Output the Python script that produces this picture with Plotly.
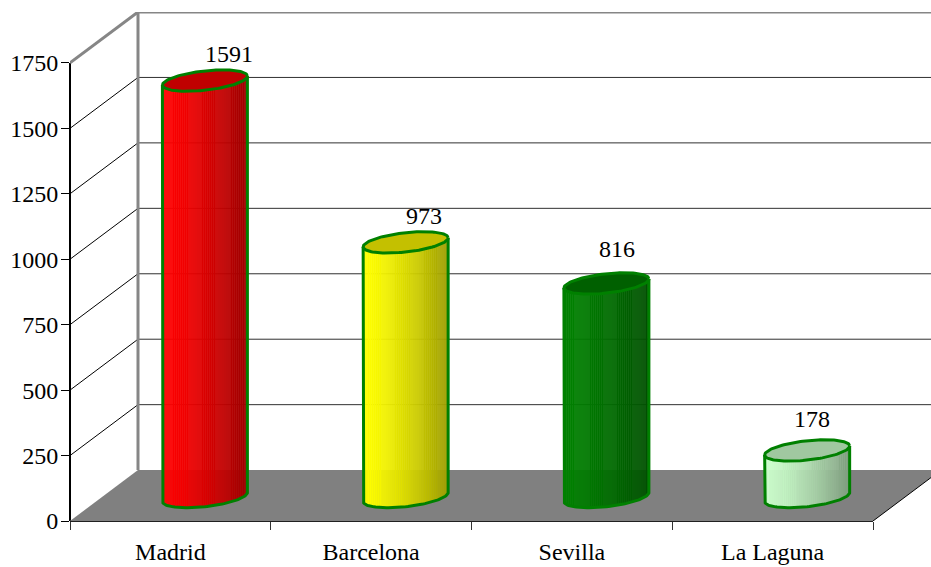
import math
import plotly.graph_objects as go

# ---- data ----
categories = ["Madrid", "Barcelona", "Sevilla", "La Laguna"]
values = [1591, 973, 816, 178]
y_ticks = [0, 250, 500, 750, 1000, 1250, 1500, 1750]
body_colors = [(255, 0, 0), (255, 255, 0), (0, 128, 0), (204, 255, 204)]
top_colors = ["#c00000", "#c4c000", "#006000", "#a0c8a0"]
label_shift = [(24, 27), (18, 26), (11, 34), (5, 31)]

# ---- geometry in axis units ----
PX_X = 200.75
PX_Y = 459 / 1750
DEPTH_X = 68 / PX_X
DEPTH_Y = 51 / PX_Y
X_MAX = 861 / PX_X
Y_MAX = 510 / PX_Y
CYL_DX = 0.672
CYL_BASE = 24 / PX_Y
RX = 42.5 / PX_X
RY = 9.7 / PX_Y
TILT = 4.5 / PX_Y
N = 44
OUTLINE = "#008000"
FONT = "Liberation Serif, Times New Roman, serif"

fig = go.Figure()
shapes = []


def line(x0, y0, x1, y1, color, width, xref="x", yref="y"):
    shapes.append(dict(type="line", x0=x0, y0=y0, x1=x1, y1=y1, xref=xref, yref=yref,
                       layer="below", line=dict(color=color, width=width)))


# floor
shapes.append(dict(type="path", layer="below", fillcolor="#808080", line=dict(width=0),
                   path=f"M 0 0 L {DEPTH_X} {DEPTH_Y} L {4 + DEPTH_X} {DEPTH_Y} L 4 0 Z"))
# walls
for v in y_ticks[1:-1]:
    line(0, v, DEPTH_X, v + DEPTH_Y, "#000000", 1)
    line(DEPTH_X, v + DEPTH_Y, X_MAX, v + DEPTH_Y, "#303030", 1)
line(0, 1750, DEPTH_X, 1750 + DEPTH_Y, "#868686", 3)
line(DEPTH_X, DEPTH_Y, DEPTH_X, 1750 + DEPTH_Y, "#868686", 3)
line(DEPTH_X, 1750 + DEPTH_Y, X_MAX, 1750 + DEPTH_Y, "#868686", 3)
line(4, 0, 4 + DEPTH_X, DEPTH_Y, "#000000", 1)
# axes
line(0, 0, 0, 1750, "#000000", 2, xref="paper")
line(0, 0, 4 / X_MAX, 0, "#202020", 2, xref="paper", yref="paper")

for i, (name, val) in enumerate(zip(categories, values)):
    cx = i + CYL_DX
    strip = 2 * RX / N
    xs, bases, cols = [], [], []
    for k in range(N):
        u = -1 + (k + 0.5) * 2 / N
        xs.append(cx + u * RX)
        bases.append(CYL_BASE + TILT * u - RY * math.sqrt(1 - u * u))
        f = k / (N - 1)
        shade = 1 - 0.38 * f ** 1.4
        r, g, b = body_colors[i]
        cols.append(f"rgb({r * shade:.0f},{g * shade:.0f},{b * shade:.0f})")
    fig.add_trace(go.Bar(x=xs, y=[val] * N, base=bases, width=strip, name=name,
                         marker=dict(color=cols, opacity=0.95, line=dict(width=0)),
                         showlegend=False, hoverinfo="skip"))

    # outline of sides and lower arc
    ts = [math.pi + j * math.pi / 60 for j in range(61)]
    ox = [cx + RX * math.cos(t) for t in ts]
    oy = [CYL_BASE + TILT * math.cos(t) + RY * math.sin(t) for t in ts]
    top = val + CYL_BASE
    ox = [cx - RX] + ox + [cx + RX]
    oy = [top - TILT] + oy + [top + TILT]
    fig.add_trace(go.Scatter(x=ox, y=oy, mode="lines", line=dict(color=OUTLINE, width=3),
                             showlegend=False, hoverinfo="skip"))
    # top ellipse
    ts = [j * 2 * math.pi / 120 for j in range(121)]
    ex = [cx + RX * math.cos(t) for t in ts]
    ey = [top + TILT * math.cos(t) + RY * math.sin(t) for t in ts]
    fig.add_trace(go.Scatter(x=ex, y=ey, mode="lines", fill="toself", fillcolor=top_colors[i],
                             line=dict(color=OUTLINE, width=3), showlegend=False, hoverinfo="skip"))

annotations = [
    dict(x=i + CYL_DX, y=values[i] + CYL_BASE, text=str(values[i]), showarrow=False,
         xshift=label_shift[i][0], yshift=label_shift[i][1],
         font=dict(family=FONT, size=24, color="#000000"))
    for i in range(len(values))
]

fig.update_layout(
    width=931, height=567, margin=dict(l=70, r=0, t=11.5, b=45.5, pad=0),
    paper_bgcolor="white", plot_bgcolor="white", barmode="overlay", bargap=0,
    showlegend=False, shapes=shapes, annotations=annotations,
    font=dict(family=FONT, size=24, color="#000000"),
    xaxis=dict(range=[0, X_MAX], showgrid=False, zeroline=False, showline=False,
               tickmode="array", tickvals=[0.5, 1.5, 2.5, 3.5], ticktext=categories,
               ticks="", ticklen=0, ticklabelstandoff=14,
               minor=dict(tickmode="array", tickvals=[0, 1, 2, 3, 4], ticks="outside",
                          ticklen=8, tickcolor="#333333", tickwidth=1, showgrid=False)),
    yaxis=dict(range=[0, Y_MAX], showgrid=False, zeroline=False, showline=False,
               tickmode="array", tickvals=y_ticks, ticks="outside", ticklen=8,
               tickcolor="#000000", tickwidth=1, ticklabelstandoff=-2),
)

fig.write_html("out.html", config={"displayModeBar": False},
               post_script="document.body.style.margin='0';document.documentElement.style.overflow='hidden';")
